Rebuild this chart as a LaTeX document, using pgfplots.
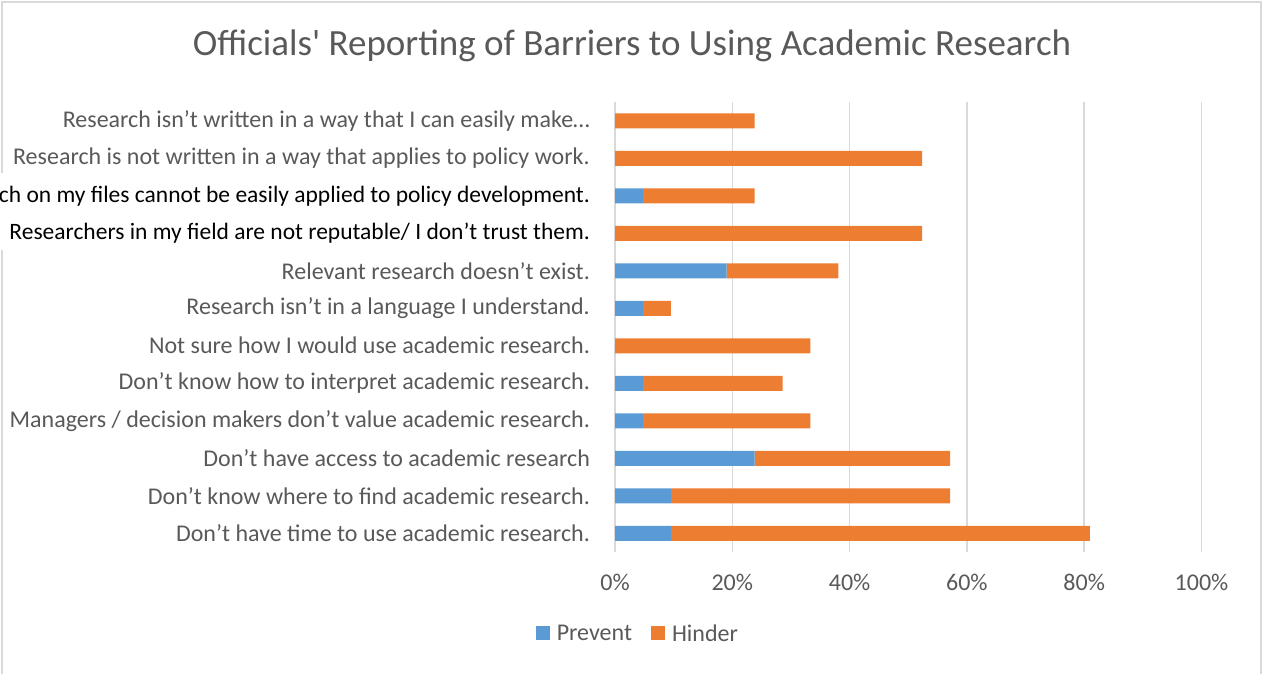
\documentclass[border=0pt]{standalone}
\usepackage{fontspec}
\setmainfont{Carlito}
\newfontfamily\titlefont{Carlito}
\usepackage{pgfplots}
\pgfplotsset{compat=1.18}
\definecolor{cblue}{HTML}{5B9BD5}
\definecolor{corange}{HTML}{ED7D31}
\definecolor{ctext}{HTML}{595959}
\definecolor{cgrid}{HTML}{D9D9D9}
\begin{document}
\begin{tikzpicture}
\path[use as bounding box] (0,0) rectangle (1263pt,-673pt);
\clip (0,0) rectangle (1263pt,-673pt);
\draw[cgrid, line width=2pt] (2pt,-680pt) -- (2pt,-250pt);
\draw[cgrid, line width=2pt] (2pt,-173pt) -- (2pt,-2pt) -- (1261pt,-2pt) -- (1261pt,-680pt);
\node[text=ctext, font=\titlefont\fontsize{37}{44}\selectfont] at (632pt,-46pt) {Officials' Reporting of Barriers to Using Academic Research};
\begin{axis}[
  at={(615pt,-552pt)}, anchor=south west, scale only axis,
  width=586.5pt, height=450pt,
  xmin=0, xmax=100, ymin=0.5, ymax=12.5,
  xbar stacked, bar width=15pt,
  axis line style={draw=none},
  xmajorgrids, grid style={cgrid, line width=1.5pt},
  major tick length=0pt,
  xtick={0,20,40,60,80,100},
  xticklabels={0\%,20\%,40\%,60\%,80\%,100\%},
  ytick={1,2,3,4,5,6,7,8,9,10,11,12},
  yticklabels={
    Don’t have time to use academic research.,
    Don’t know where to find academic research.,
    Don’t have access to academic research,
    Managers / decision makers don’t value academic research.,
    Don’t know how to interpret academic research.,
    Not sure how I would use academic research.,
    Research isn’t in a language I understand.,
    Relevant research doesn’t exist.,
    {\fontsize{23.5}{28}\selectfont\textcolor{black}{Researchers in my field are not reputable/ I don’t trust them.}},
    {\fontsize{23.5}{28}\selectfont\textcolor{black}{Research on my files cannot be easily applied to policy development.}},
    Research is not written in a way that applies to policy work.,
    Research isn’t written in a way that I can easily make…},
  ticklabel style={font=\fontsize{24}{28}\selectfont, text=ctext, inner sep=0pt},
  yticklabel style={anchor=east, xshift=-25pt},
  xticklabel style={anchor=north, yshift=-22pt},
  legend columns=2,
  legend style={at={(0.039,-0.182)}, anchor=center, draw=none, fill=none,
    font=\fontsize{24}{28}\selectfont, text=ctext,
    /tikz/every even column/.append style={column sep=17pt}},
  legend image code/.code={\path[#1, draw=none] (0pt,-6pt) rectangle (14pt,8pt);},
]
\addplot[fill=cblue, draw=none] coordinates {
  (9.52,1) (9.52,2) (23.81,3) (4.76,4) (4.76,5) (0,6)
  (4.76,7) (19.05,8) (0,9) (4.76,10) (0,11) (0,12)};
\addplot[fill=corange, draw=none] coordinates {
  (71.43,1) (47.62,2) (33.33,3) (28.57,4) (23.81,5) (33.33,6)
  (4.76,7) (19.05,8) (52.38,9) (19.05,10) (52.38,11) (23.81,12)};
\legend{\hspace{5pt}Prevent, \hspace{5pt}Hinder}
\end{axis}
\end{tikzpicture}
\end{document}
